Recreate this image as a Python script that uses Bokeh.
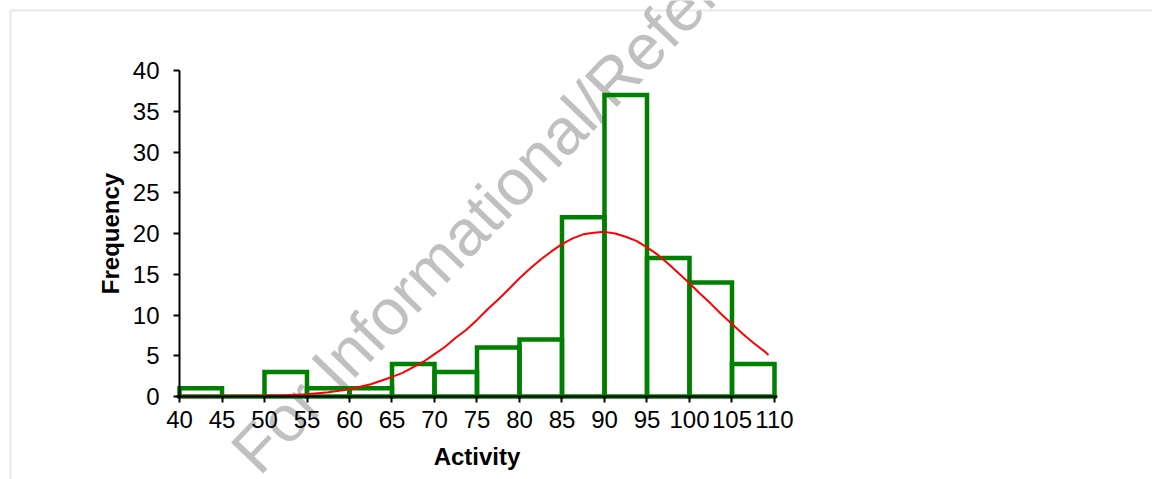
from bokeh.plotting import figure
from bokeh.models import Range1d, FixedTicker, LinearAxis, BoxAnnotation, ColumnDataSource
from bokeh.core.properties import value
from bokeh.embed import file_html
from bokeh.resources import INLINE

# ---- data ----
bin_left = [40, 45, 50, 55, 60, 65, 70, 75, 80, 85, 90, 95, 100, 105]
bin_right = [45, 50, 55, 60, 65, 70, 75, 80, 85, 90, 95, 100, 105, 110]
frequency = [1, 0, 3, 1, 1, 4, 3, 6, 7, 22, 37, 17, 14, 4]

curve_x = [40, 42.5, 45, 47.5, 50, 52.5, 55, 57.5, 60, 62.5, 65, 66.25, 67.5,
           68.75, 70, 71.25, 72.5, 73.75, 75, 76.25, 77.5, 78.75, 80, 81.25,
           82.5, 83.75, 85, 86.25, 87.5, 88.75, 90, 91.25, 92.5, 93.75, 95,
           96.25, 97.5, 98.75, 100, 101.25, 102.5, 103.75, 105, 106.25, 107.5,
           108.75, 109.3]
curve_y = [0.0, 0.01, 0.02, 0.04, 0.08, 0.16, 0.29, 0.52, 0.9, 1.5, 2.4, 2.9, 3.6,
           4.3, 5.2, 6.1, 7.2, 8.2, 9.4, 10.7, 11.9, 13.2, 14.5, 15.7,
           16.8, 17.8, 18.7, 19.4, 19.9, 20.1, 20.2, 20.0, 19.6, 19.1, 18.3,
           17.4, 16.3, 15.1, 13.9, 12.6, 11.4, 10.1, 8.9, 7.7, 6.6,
           5.6, 5.1]

x_ticks = [40, 45, 50, 55, 60, 65, 70, 75, 80, 85, 90, 95, 100, 105, 110]
y_ticks = [0, 5, 10, 15, 20, 25, 30, 35, 40]

x_label = "Activity"
y_label = "Frequency"
watermark = "For Informational/Reference Only"

FONT = "Liberation Sans"

# the plotting frame covers the whole canvas; axes are placed at fixed data locations
p = figure(width=1152, height=479, output_backend="svg", toolbar_location=None,
           x_range=Range1d(18.941, 154.471), y_range=Range1d(-10.184, 48.589),
           x_axis_location=None, y_axis_location=None, min_border=0)
p.outline_line_color = None
p.background_fill_color = "white"
p.border_fill_color = "white"
p.xgrid.visible = False
p.ygrid.visible = False

# light gray frame of the chart area (left and top edges visible)
frame_box = BoxAnnotation(left=20.1175, right=170, top=47.362, bottom=-30,
                          fill_color=None, line_color="#b4b4b4", line_width=2,
                          level="underlay")
p.add_layout(frame_box)

# watermark text, under the bars and axes
p.text(x=[47.5], y=[-7.98], text=[watermark], angle=46, angle_units="deg",
       text_font=value(FONT), text_font_size=value("65px"), text_color="#c0c0c0",
       text_align="left", text_baseline="alphabetic")

src = ColumnDataSource(dict(left=bin_left, right=bin_right, top=frequency,
                            bottom=[0] * len(frequency)))
p.quad(left="left", right="right", top="top", bottom="bottom", source=src,
       fill_color=None, line_color="#008000", line_width=4.5,
       line_join="miter")

p.line(curve_x, curve_y, line_color="#ff0000", line_width=2)

xaxis = LinearAxis(fixed_location=0, bounds=(39.7, 110.3))
yaxis = LinearAxis(fixed_location=40, bounds=(0, 40))
p.add_layout(xaxis, "below")
p.add_layout(yaxis, "left")

for ax, ticks, lab in ((xaxis, x_ticks, x_label), (yaxis, y_ticks, y_label)):
    ax.ticker = FixedTicker(ticks=ticks)
    ax.minor_tick_line_color = None
    ax.axis_line_color = "black"
    ax.axis_line_width = 2
    ax.major_tick_line_color = "black"
    ax.major_tick_line_width = 2
    ax.major_tick_in = 0
    ax.major_tick_out = 6
    ax.major_label_text_font = FONT
    ax.major_label_text_font_size = "24px"
    ax.major_label_text_color = "black"
    ax.axis_label = lab
    ax.axis_label_text_font = FONT
    ax.axis_label_text_font_size = "24px"
    ax.axis_label_text_font_style = "bold"
    ax.axis_label_text_color = "black"

xaxis.major_label_standoff = 8
xaxis.axis_label_standoff = 12
yaxis.major_label_standoff = 14
yaxis.axis_label_standoff = 6

open("out.html", "w").write(file_html(p, INLINE))
